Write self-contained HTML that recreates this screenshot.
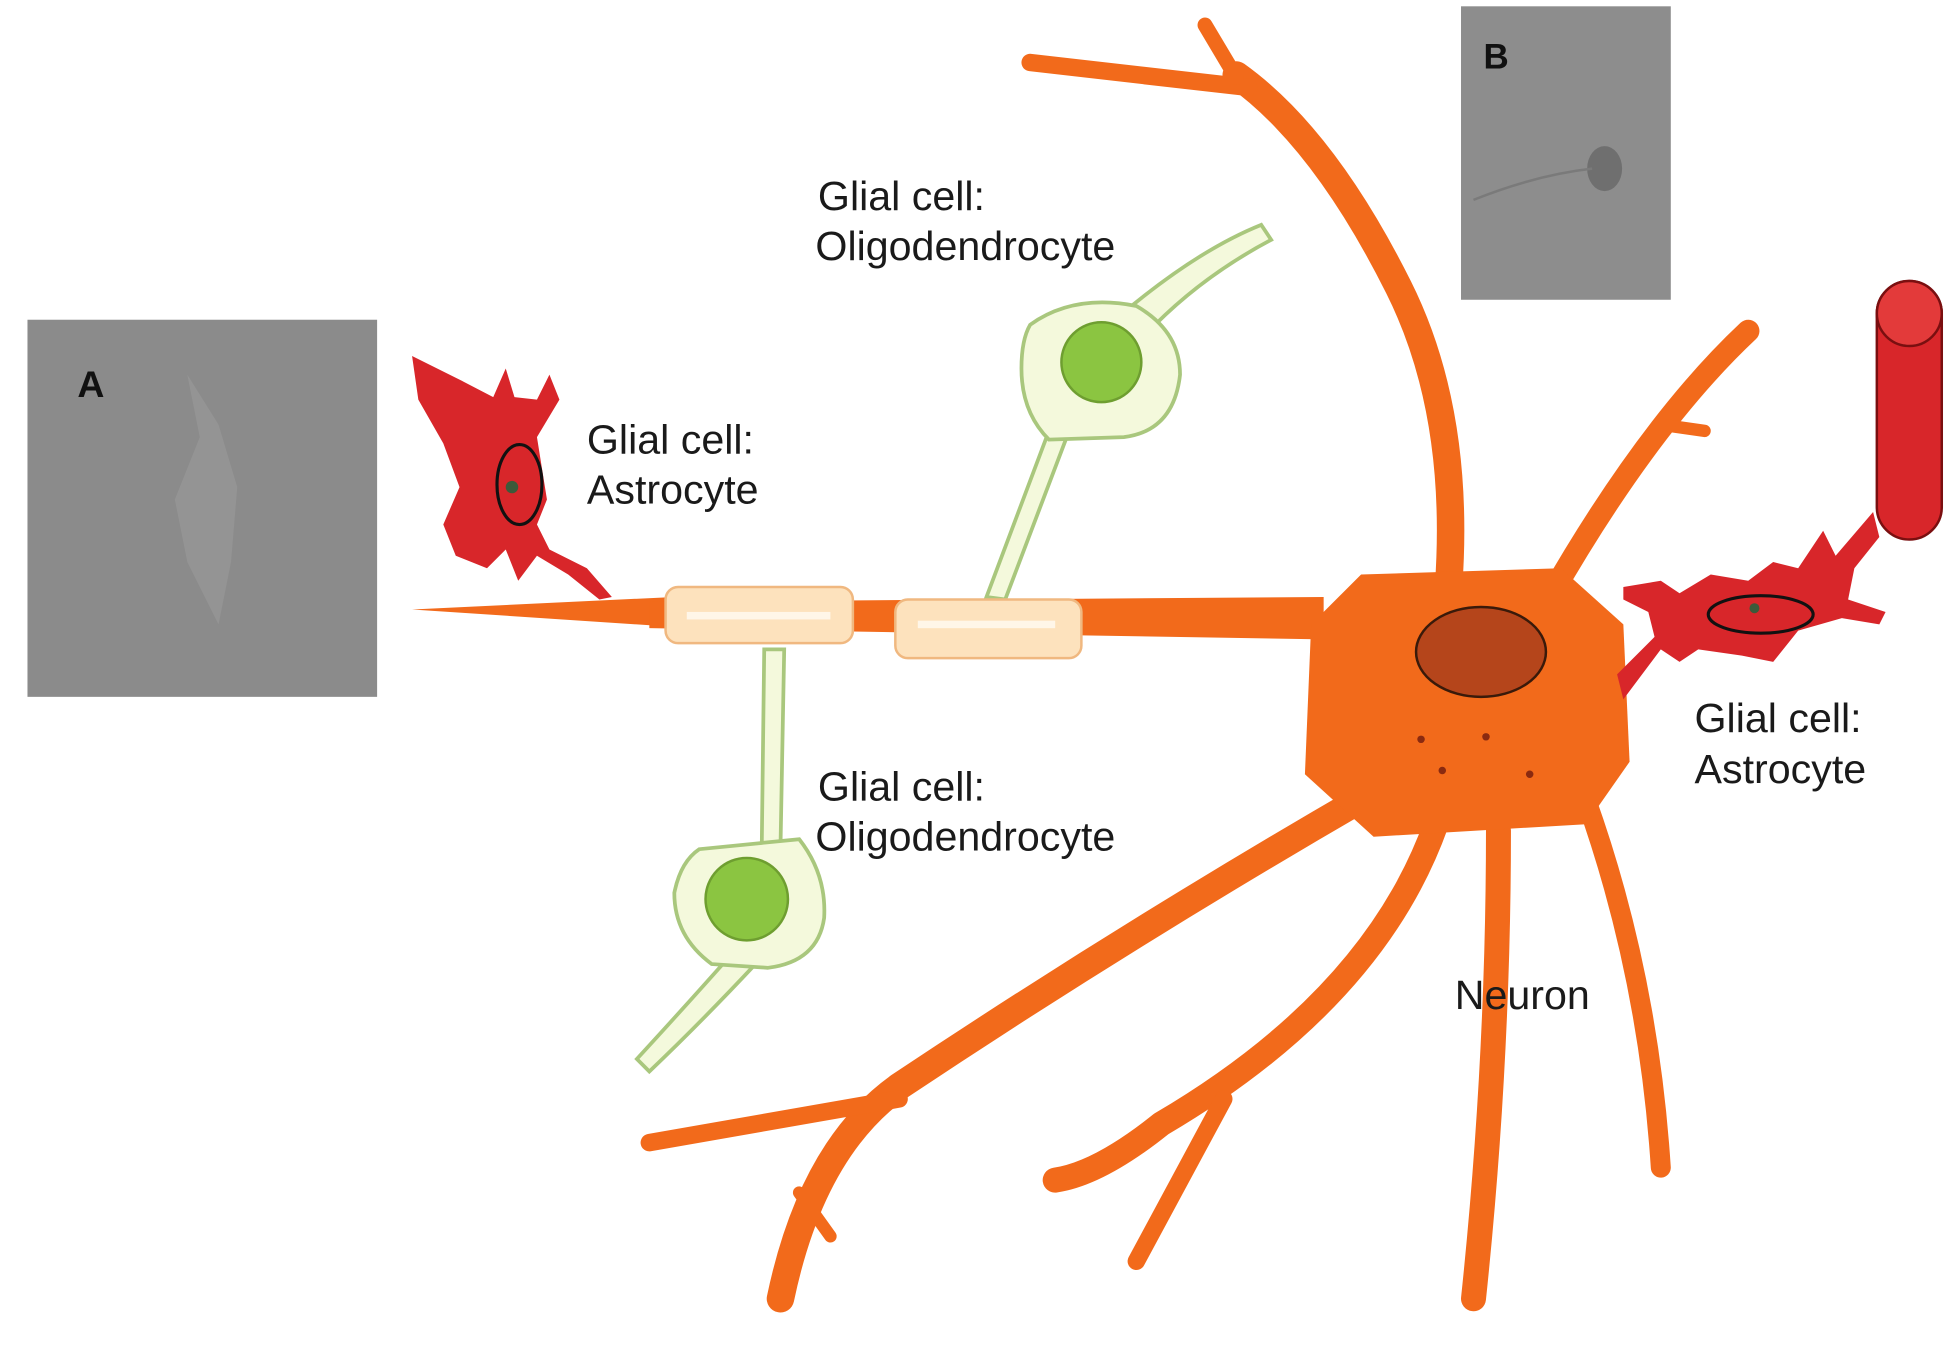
<!DOCTYPE html>
<html><head><meta charset="utf-8"><style>
html,body{margin:0;padding:0;background:#fff;}
svg{display:block;}
text{font-family:"Liberation Sans",sans-serif;fill:#1a1a1a;}
</style></head><body>
<svg width="1958" height="1350" viewBox="0 0 1568 1081" xmlns="http://www.w3.org/2000/svg">
<rect width="1568" height="1081" fill="#fff"/>
<!-- photo A -->
<rect x="22" y="256" width="280" height="302" fill="#8b8b8b"/>
<path d="M150 300 L160 350 L140 400 L150 450 L175 500 L185 450 L190 390 L175 340 Z" fill="#999" opacity="0.7"/>
<text x="62" y="318" font-size="30" font-weight="bold" style="fill:#111">A</text>
<!-- photo B -->
<rect x="1170" y="5" width="168" height="235" fill="#8d8d8d"/>
<ellipse cx="1285" cy="135" rx="14" ry="18" fill="#6f6f6f"/>
<path d="M1180 160 Q1230 140 1275 135" stroke="#7a7a7a" stroke-width="2" fill="none"/>
<text x="1188" y="55" font-size="28" font-weight="bold" style="fill:#111">B</text>

<!-- Dendrites -->
<g stroke="#f26a1b" stroke-linecap="round" stroke-linejoin="round" fill="none">
<path d="M1160 470 Q1170 330 1120 230 Q1060 110 990 60" stroke-width="22"/>
<path d="M1000 70 L825 50" stroke-width="14"/>
<path d="M990 62 L965 20" stroke-width="12"/>
<path d="M1240 480 Q1320 340 1400 265" stroke-width="18"/>
<path d="M1330 340 L1365 345" stroke-width="10"/>
<path d="M1090 640 Q900 750 720 870 Q650 920 625 1040" stroke-width="22"/>
<path d="M720 880 L520 915" stroke-width="14"/>
<path d="M640 955 L665 990" stroke-width="10"/>
<path d="M1150 660 Q1100 800 930 900 Q880 940 845 945" stroke-width="20"/>
<path d="M980 880 L910 1010" stroke-width="14"/>
<path d="M1200 665 Q1200 850 1180 1040" stroke-width="20"/>
<path d="M1270 640 Q1320 780 1330 935" stroke-width="16"/>
</g>
<!-- axon -->
<path d="M330 488 L540 478 L540 502 Z" fill="#f26a1b"/>
<polygon points="520,482 1060,478 1060,512 520,503" fill="#f26a1b"/>
<!-- neuron body -->
<polygon points="1090,460 1250,455 1300,500 1305,610 1270,660 1100,670 1045,620 1050,500" fill="#f26a1b"/>
<ellipse cx="1186" cy="522" rx="52" ry="36" fill="#b5451b" stroke="#3a1a0a" stroke-width="2"/>
<g fill="#8a2a10"><circle cx="1138" cy="592" r="3"/><circle cx="1190" cy="590" r="3"/><circle cx="1155" cy="617" r="3"/><circle cx="1225" cy="620" r="3"/></g>

<!-- oligodendrocyte top -->
<g fill="#f4f9dc" stroke="#a9c77d" stroke-width="3">
<path d="M790 478 L840 345 L855 348 L805 480 Z"/>
<path d="M900 250 Q960 200 1010 180 L1018 192 Q965 220 925 260 Z"/>
<path d="M825 260 Q860 235 910 245 Q945 265 945 300 Q940 345 900 350 L840 352 Q818 330 818 295 Q818 272 825 260 Z"/>
<circle cx="882" cy="290" r="32" fill="#8bc541" stroke="#6e9e30" stroke-width="2"/>
<!-- bottom -->
<path d="M612 520 L628 520 L625 680 L610 680 Z"/>
<path d="M585 765 Q545 810 510 848 L520 858 Q560 820 605 772 Z"/>
<path d="M560 680 L640 672 Q662 700 660 735 Q655 770 615 775 L570 772 Q540 750 540 715 Q545 690 560 680 Z"/>
<circle cx="598" cy="720" r="33" fill="#8bc541" stroke="#6e9e30" stroke-width="2"/>
</g>
<!-- myelin -->
<rect x="533" y="470" width="150" height="45" rx="10" fill="#fde2bd" stroke="#f0b880" stroke-width="2"/>
<rect x="717" y="480" width="149" height="47" rx="10" fill="#fde2bd" stroke="#f0b880" stroke-width="2"/>
<rect x="550" y="490" width="115" height="6" fill="#fff6e8"/>
<rect x="735" y="497" width="110" height="6" fill="#fff6e8"/>

<!-- astrocyte left -->
<path d="M330 285 L370 305 L395 318 L405 295 L412 318 L430 320 L440 300 L448 320 L430 350 L438 400 L430 420 L440 440 L470 455 L490 478 L480 480 L455 460 L430 445 L415 465 L405 440 L390 455 L365 445 L355 420 L368 390 L355 355 L335 320 Z" fill="#d8262a"/>
<ellipse cx="416" cy="388" rx="18" ry="32" fill="none" stroke="#111" stroke-width="2.5"/>
<circle cx="410" cy="390" r="5" fill="#3c5a3a"/>
<!-- astrocyte right -->
<path d="M1300 470 L1330 465 L1345 475 L1370 460 L1400 465 L1420 450 L1440 455 L1460 425 L1470 445 L1500 410 L1505 430 L1485 455 L1480 480 L1510 490 L1505 500 L1475 495 L1440 505 L1420 530 L1395 525 L1360 520 L1345 530 L1330 520 L1300 560 L1295 540 L1325 510 L1320 490 L1300 480 Z" fill="#d8262a"/>
<ellipse cx="1410" cy="492" rx="42" ry="15" fill="none" stroke="#111" stroke-width="2.5"/>
<circle cx="1405" cy="487" r="4" fill="#3c5a3a"/>
<!-- vessel -->
<rect x="1503" y="225" width="52" height="207" rx="26" fill="#d8262a" stroke="#7a0f10" stroke-width="2"/>
<ellipse cx="1529" cy="251" rx="26" ry="26" fill="#e33a3a" stroke="#7a0f10" stroke-width="2"/>

<!-- labels -->
<g font-size="33">
<text x="655" y="168">Glial cell:</text>
<text x="653" y="208">Oligodendrocyte</text>
<text x="470" y="363">Glial cell:</text>
<text x="470" y="403">Astrocyte</text>
<text x="655" y="641">Glial cell:</text>
<text x="653" y="681">Oligodendrocyte</text>
<text x="1357" y="586">Glial cell:</text>
<text x="1357" y="627">Astrocyte</text>
<text x="1165" y="808">Neuron</text>
</g>
</svg>
</body></html>
